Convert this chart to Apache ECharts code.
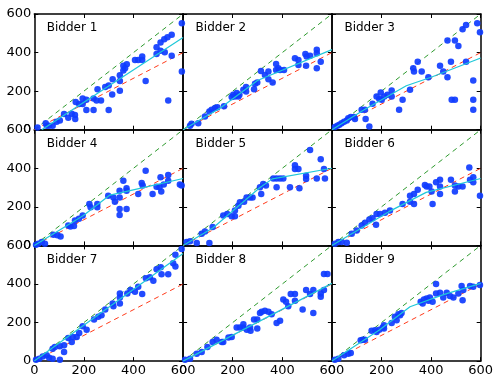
<!DOCTYPE html>
<html><head><meta charset="utf-8">
<script src="https://cdn.jsdelivr.net/npm/echarts@6/dist/echarts.min.js"></script>
<style>html,body{margin:0;padding:0;background:#fff}#c{width:493px;height:375px}</style>
</head><body><div id="c"></div>
<script>
const titles = ['Bidder 1','Bidder 2','Bidder 3','Bidder 4','Bidder 5','Bidder 6','Bidder 7','Bidder 8','Bidder 9'];
const ticks = [0,200,400,600];
const b1 = [[13,12],[46,34],[50,21],[60,21],[74,21],[90,41],[103,48],[120,81],[137,62],[151,83],[164,76],[165,55],[167,143],[181,133],[195,133],[195,162],[210,155],[210,102],[239,102],[239,162],[255,210],[251,152],[269,152],[286,222],[300,102],[300,229],[314,183],[316,262],[345,283],[345,252],[345,202],[359,307],[359,331],[366,319],[373,340],[406,362],[419,362],[435,362],[435,379],[449,253],[493,428],[493,393],[509,452],[509,410],[524,469],[526,402],[537,479],[540,152],[554,493],[554,383],[595,552],[595,302]];
const b2 = [[28,21],[34,31],[61,34],[88,69],[106,95],[115,103],[129,112],[138,117],[165,121],[196,169],[202,181],[209,172],[216,190],[223,172],[227,181],[243,207],[254,221],[254,198],[286,210],[290,238],[299,245],[314,305],[330,284],[344,302],[344,262],[361,245],[375,341],[375,310],[384,319],[391,310],[407,310],[451,371],[465,362],[465,336],[493,393],[498,379],[496,331],[512,383],[539,414],[539,397],[539,319],[555,353]];
const b3 = [[12,14],[22,21],[30,26],[39,34],[49,41],[60,48],[66,60],[76,66],[89,66],[93,55],[120,103],[133,103],[136,55],[151,16],[164,134],[180,172],[191,159],[197,193],[201,155],[211,172],[224,181],[241,203],[241,172],[271,103],[285,155],[315,207],[328,319],[331,302],[346,353],[362,302],[389,272],[436,331],[449,302],[466,272],[466,462],[480,353],[483,155],[496,155],[496,462],[510,434],[527,521],[541,543],[541,353],[570,255],[570,155],[570,103],[586,552],[597,505]];
const b4 = [[7,3],[16,9],[30,17],[43,9],[77,55],[93,52],[106,46],[137,103],[146,98],[160,100],[164,129],[180,138],[195,155],[222,215],[227,198],[254,215],[254,198],[298,258],[319,249],[325,227],[344,249],[344,284],[344,189],[344,158],[359,335],[372,296],[372,284],[372,189],[419,267],[433,323],[437,310],[449,387],[477,267],[493,304],[505,301],[512,279],[509,353],[522,316],[540,335],[540,365],[587,316],[594,310]];
const b5 = [[14,17],[28,21],[55,12],[106,12],[75,60],[88,72],[119,95],[162,155],[178,163],[196,151],[209,151],[209,181],[223,206],[229,224],[246,227],[256,249],[270,249],[280,249],[310,301],[315,267],[323,318],[334,310],[364,347],[377,347],[391,347],[404,347],[377,301],[431,301],[451,416],[451,396],[465,396],[469,296],[496,361],[496,344],[512,495],[539,347],[555,447],[568,396],[572,347]];
const b6 = [[12,9],[26,17],[39,17],[60,14],[80,60],[100,77],[120,103],[134,117],[151,134],[164,141],[180,163],[194,163],[214,169],[234,181],[178,107],[285,215],[315,258],[315,227],[331,267],[331,215],[346,289],[375,313],[382,306],[393,306],[402,279],[406,215],[420,327],[436,341],[436,306],[436,267],[480,341],[496,310],[496,279],[510,306],[527,306],[554,404],[557,341],[570,353],[570,327],[597,258]];
const b7 = [[7,7],[20,12],[34,24],[50,30],[60,17],[74,12],[103,7],[74,64],[83,73],[103,77],[120,82],[120,47],[137,120],[151,99],[155,125],[171,125],[181,146],[195,181],[211,163],[241,216],[258,230],[271,238],[286,268],[316,299],[319,285],[345,351],[345,330],[345,299],[375,351],[388,369],[406,360],[419,386],[435,348],[450,430],[466,435],[480,417],[493,476],[510,487],[513,450],[540,450],[560,508],[569,490],[569,551],[594,581]];
const b8 = [[8,7],[28,12],[55,38],[75,47],[98,73],[119,99],[135,111],[156,99],[162,99],[183,122],[196,125],[216,174],[229,174],[243,174],[243,191],[257,163],[270,174],[272,157],[286,216],[299,216],[299,169],[310,250],[317,256],[330,261],[344,256],[357,243],[377,198],[391,209],[404,320],[415,308],[424,285],[434,348],[451,348],[451,313],[482,268],[496,369],[512,348],[525,250],[525,369],[555,351],[555,334],[568,452],[582,452],[568,369]];
const b9 = [[12,7],[26,12],[49,30],[66,38],[76,42],[116,108],[124,111],[133,111],[160,157],[174,160],[180,151],[191,163],[205,174],[210,186],[210,169],[241,198],[254,230],[261,212],[268,243],[275,238],[281,250],[358,308],[366,299],[371,320],[382,325],[389,313],[395,330],[406,308],[420,351],[420,400],[436,355],[449,330],[463,355],[476,337],[490,330],[510,351],[523,389],[527,316],[557,389],[570,386],[597,395],[530,369]];
const fit1 = [[30,0],[600,478]];
const fit2 = [[0,0],[150,112],[300,255],[600,415]];
const fit3 = [[0,0],[130,103],[300,228],[400,272],[600,372]];
const fit4 = [[0,0],[198,155],[305,261],[426,296],[600,347]];
const fit5 = [[0,0],[120,90],[310,300],[360,345],[600,400]];
const fit6 = [[0,0],[230,175],[380,275],[600,347]];
const fit7 = [[0,0],[600,558]];
const fit8 = [[0,0],[600,403]];
const fit9 = [[0,0],[190,160],[315,282],[450,345],[600,403]];
const diag = [[0,0],[600,600]];
const twoThirds = [[0,0],[600,400]];

const bids = [b1,b2,b3,b4,b5,b6,b7,b8,b9];
const fits = [fit1,fit2,fit3,fit4,fit5,fit6,fit7,fit8,fit9];

const L0 = 34.3, PW = 148.8, T0 = 14, PH = 115.7;
const font = 'DejaVu Sans';
const grid = [], xAxis = [], yAxis = [], series = [], title = [];
const lineW = 1.5;
for (let i = 0; i < 9; i++) {
  const r = Math.floor(i / 3), c = i % 3;
  const left = L0 + c * PW, top = T0 + r * PH;
  grid.push({left: left, top: top, width: PW, height: PH, containLabel: false, outerBoundsMode: 'none', show: false});
  const common = {type: 'value', min: 0, max: 600, interval: 200, gridIndex: i,
    splitLine: {show: false},
    axisLine: {show: true, onZero: false, lineStyle: {color: '#000', width: lineW}},
    axisTick: {show: true, inside: true, length: 4, lineStyle: {color: '#000', width: 1}}};
  xAxis.push(Object.assign({}, common, {position: 'bottom',
    axisLabel: {show: r === 2, color: '#000', fontFamily: font, fontSize: 13, margin: 3, showMinLabel: true, showMaxLabel: true}}));
  xAxis.push(Object.assign({}, common, {position: 'top', axisLabel: {show: false}}));
  yAxis.push(Object.assign({}, common, {position: 'left',
    axisLabel: {show: c === 0, color: '#000', fontFamily: font, fontSize: 13, margin: 3, showMinLabel: true, showMaxLabel: true}}));
  yAxis.push(Object.assign({}, common, {position: 'right', axisLabel: {show: false}}));
  const xi = 2 * i, yi = 2 * i;
  series.push({type: 'scatter', xAxisIndex: xi, yAxisIndex: yi, data: bids[i], symbolSize: 6.5,
    itemStyle: {color: '#0f3cff', opacity: 0.92}, z: 3});
  series.push({type: 'line', xAxisIndex: xi, yAxisIndex: yi, data: diag, symbol: 'none',
    lineStyle: {color: '#2e9a2e', width: 1, type: [5, 4]}, z: 2});
  series.push({type: 'line', xAxisIndex: xi, yAxisIndex: yi, data: twoThirds, symbol: 'none',
    lineStyle: {color: '#ff3a1a', width: 1, type: [5, 4]}, z: 2});
  series.push({type: 'line', xAxisIndex: xi, yAxisIndex: yi, data: fits[i], symbol: 'none',
    lineStyle: {color: '#1fc8d8', width: 1.2}, z: 4});
  title.push({text: titles[i], left: left + 12.5, top: top + 8, padding: 0,
    textStyle: {fontFamily: font, fontSize: 12, fontWeight: 'normal', color: '#000'}});
}
const chart = echarts.init(document.getElementById('c'), null, {renderer: 'canvas'});
chart.setOption({animation: false, backgroundColor: '#fff', title, grid, xAxis, yAxis, series});
</script></body></html>
